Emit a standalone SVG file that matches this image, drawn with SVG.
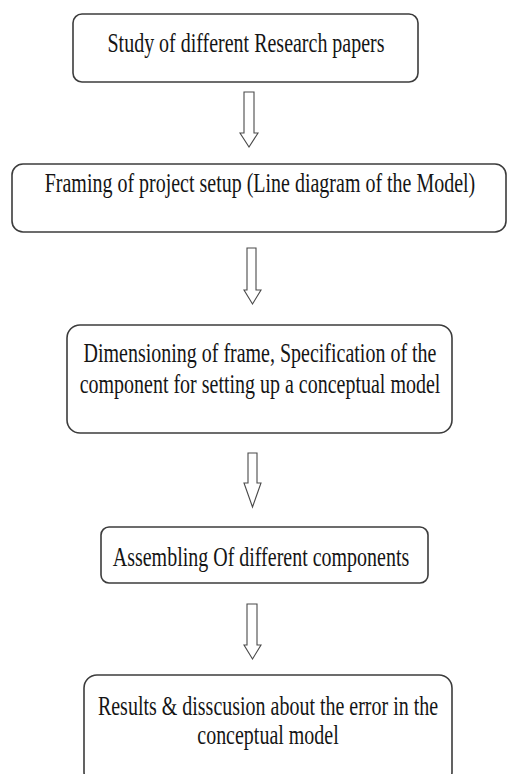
<svg xmlns="http://www.w3.org/2000/svg" width="508" height="774" viewBox="0 0 508 774">
<style>
.box{fill:#ffffff;stroke:#3c3c3c;stroke-width:1.6}
.lbl{font-family:"Liberation Serif","Times New Roman",serif;font-size:27px;fill:#151515;text-anchor:middle}
.arr{fill:#ffffff;stroke:#4a4a4a;stroke-width:1.1;stroke-linejoin:miter}
</style>
<rect width="508" height="774" fill="#ffffff"/>
<g id="connectors">
<path class="arr" d="M244,92 H254 V133 H258 L249,147 L240,133 H244 Z"/>
<path class="arr" d="M247,248 H256 V290 H261 L252.5,304 L244,290 H247 Z"/>
<path class="arr" d="M248,453 H257 V483 H261 L252.5,507 L244,483 H248 Z"/>
<path class="arr" d="M247,604 H257 V645 H261 L252.5,659 L244,645 H247 Z"/>
</g>
<g id="node1">
<rect class="box" x="73" y="14" width="345" height="68" rx="9"/>
<text class="lbl" transform="translate(246,52) scale(0.74,1)">Study of different Research papers</text>
</g>
<g id="node2">
<rect class="box" x="12" y="164" width="494" height="68" rx="11"/>
<text class="lbl" transform="translate(260,192) scale(0.74,1)">Framing of project setup (Line diagram of the Model)</text>
</g>
<g id="node3">
<rect class="box" x="67" y="325" width="385" height="108" rx="13"/>
<text class="lbl" transform="translate(260,362) scale(0.74,1)">Dimensioning of frame, Specification of the</text>
<text class="lbl" transform="translate(260,393) scale(0.74,1)">component for setting up a conceptual model</text>
</g>
<g id="node4">
<rect class="box" x="101" y="527" width="327" height="56" rx="8"/>
<text class="lbl" transform="translate(261,566) scale(0.74,1)">Assembling Of different components</text>
</g>
<g id="node5">
<rect class="box" x="84" y="675" width="368" height="110" rx="13"/>
<text class="lbl" transform="translate(268,715) scale(0.74,1)">Results &amp; disscusion about the error in the</text>
<text class="lbl" transform="translate(268,744) scale(0.74,1)">conceptual model</text>
</g>
</svg>
